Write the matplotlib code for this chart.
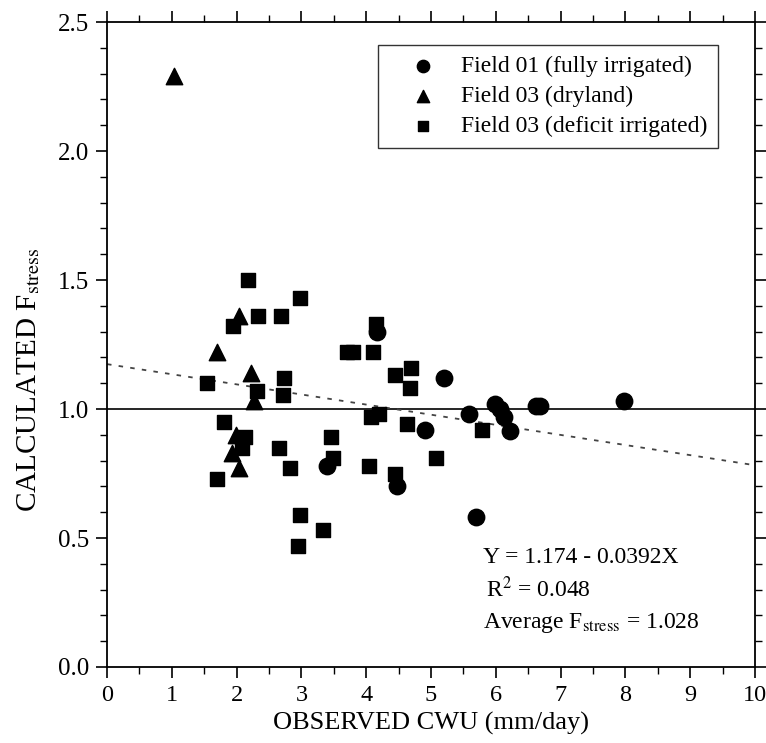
import matplotlib
matplotlib.use("Agg")
import matplotlib.pyplot as plt
from matplotlib.ticker import MultipleLocator

plt.rcParams['font.family'] = ['Liberation Serif', 'DejaVu Serif']
plt.rcParams['mathtext.fontset'] = 'stix'

# Field 01 (fully irrigated)
f01_x = [4.17, 5.20, 5.59, 5.99, 6.06, 6.13, 6.22, 6.62, 6.68, 7.98, 4.91, 3.40, 4.47, 5.69]
f01_y = [1.30, 1.12, 0.98, 1.02, 1.00, 0.97, 0.915, 1.01, 1.01, 1.03, 0.92, 0.78, 0.70, 0.58]

# Field 03 (dryland)
dry_x = [1.03, 1.70, 2.04, 2.22, 2.27, 1.99, 1.93, 2.04]
dry_y = [2.29, 1.22, 1.36, 1.14, 1.03, 0.90, 0.83, 0.77]

# Field 03 (deficit irrigated)
def_x = [2.18, 2.98, 2.33, 2.69, 1.95, 3.70, 3.80, 2.73, 1.54, 2.31, 2.72, 1.81,
         2.13, 2.08, 2.65, 3.46, 3.49, 2.82, 1.70, 2.98, 3.34, 2.95,
         4.15, 4.11, 4.69, 4.44, 4.68, 4.07, 4.20, 4.63, 5.79, 5.08, 4.05, 4.44]
def_y = [1.50, 1.43, 1.36, 1.36, 1.32, 1.22, 1.22, 1.12, 1.10, 1.07, 1.055, 0.95,
         0.89, 0.85, 0.85, 0.89, 0.81, 0.77, 0.73, 0.59, 0.53, 0.47,
         1.33, 1.22, 1.16, 1.13, 1.08, 0.97, 0.98, 0.94, 0.92, 0.81, 0.78, 0.75]

# regression
intercept = 1.174
slope = -0.0392
fit_x = [0, 10]

fig = plt.figure(figsize=(7.66, 7.43), dpi=100)
ax = fig.add_axes([0.1397, 0.1023, 0.846, 0.868])

ax.scatter(f01_x, f01_y, marker='o', s=140, color='black', label='Field 01 (fully irrigated)', zorder=3)
ax.scatter(dry_x, dry_y, marker='^', s=140, color='black', label='Field 03 (dryland)', zorder=3)
ax.scatter(def_x, def_y, marker='s', s=110, color='black', label='Field 03 (deficit irrigated)', zorder=3)

ax.axhline(1.0, color='black', lw=1.2, zorder=2)
ax.plot(fit_x, [intercept + slope * v for v in fit_x], color='#444444', lw=1.3,
        linestyle=(0, (2.5, 4)), zorder=2)

ax.set_xlim(0, 10)
ax.set_ylim(0, 2.5)
ax.xaxis.set_major_locator(MultipleLocator(1))
ax.xaxis.set_minor_locator(MultipleLocator(0.5))
ax.yaxis.set_major_locator(MultipleLocator(0.5))
ax.yaxis.set_minor_locator(MultipleLocator(0.1))
ax.yaxis.set_major_formatter(matplotlib.ticker.FormatStrFormatter('%.1f'))
ax.tick_params(which='both', direction='out', top=True, right=True)
ax.tick_params(which='major', length=8, width=1.2)
ax.tick_params(axis='x', which='major', labelsize=17.5, pad=5)
ax.tick_params(axis='y', which='major', labelsize=18, pad=5)
ax.tick_params(which='minor', length=5, width=1.0)
for s in ax.spines.values():
    s.set_linewidth(1.3)

ax.set_xlabel('OBSERVED CWU (mm/day)', fontsize=19, labelpad=4)
ax.set_ylabel('CALCULATED F$_{\\mathrm{stress}}$', fontsize=21)
ax.yaxis.set_label_coords(-0.10, 0.445)

leg = ax.legend(loc='upper right', bbox_to_anchor=(0.943, 0.964), borderaxespad=0,
                fontsize=17, frameon=True, fancybox=False, edgecolor='black',
                borderpad=0.45, handlelength=2.9, handletextpad=0.15,
                labelspacing=0.35, markerscale=0.75)
leg.get_frame().set_linewidth(1.0)

ax.text(5.8, 0.425, 'Y = 1.174 - 0.0392X', fontsize=17, ha='left', va='center')
ax.text(5.85, 0.30, 'R$^{2}$ = 0.048', fontsize=17, ha='left', va='center')
ax.text(5.8, 0.17, 'Average F$_{\\mathrm{stress}}$ = 1.028', fontsize=17, ha='left', va='center')

fig.savefig('out.png', dpi=100)
